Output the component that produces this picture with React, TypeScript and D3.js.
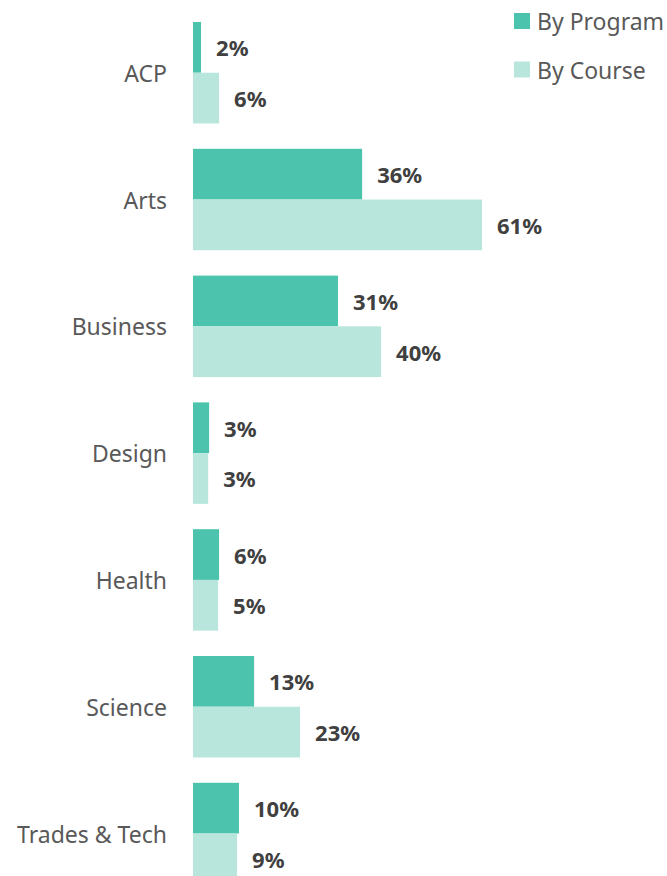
import React from "react";
import * as d3 from "d3";

const categories = ["ACP", "Arts", "Business", "Design", "Health", "Science", "Trades & Tech"];
const byProgram = [1.7, 35.7, 30.6, 3.4, 5.5, 12.9, 9.7];
const byCourse = [5.5, 61, 39.7, 3.2, 5.3, 22.6, 9.3];
const seriesNames = ["By Program", "By Course"];
const colors = ["#4bc3ad", "#b8e6dc"];

const W = 667;
const H = 876;
const FONT = "'Noto Sans', 'Open Sans', sans-serif";

export default function App() {
  const step = 126.8;
  const pad = 0.2;
  const x = d3.scaleLinear().domain([0, 61]).range([193, 482]);
  const y = d3
    .scaleBand<string>()
    .domain(categories)
    .range([22, 22 + step * (categories.length - pad)])
    .paddingInner(pad)
    .paddingOuter(0);
  const sub = d3.scaleBand<number>().domain([0, 1]).range([0, y.bandwidth()]);
  const series = [byProgram, byCourse];

  return (
    <svg
      width={W}
      height={H}
      style={{ position: "absolute", left: 0, top: 0, display: "block" }}
      fontFamily={FONT}
    >
      {categories.map((c, i) => (
        <g key={c} transform={`translate(0,${y(c)})`}>
          <text
            x={167}
            y={y.bandwidth() / 2}
            textAnchor="end"
            dominantBaseline="central"
            fontSize={23}
            fill="#595959"
          >
            {c}
          </text>
          {series.map((s, j) => (
            <g key={j}>
              <rect
                x={x(0)}
                y={sub(j)}
                width={x(s[i]) - x(0)}
                height={sub.bandwidth()}
                fill={colors[j]}
              />
              <text
                x={x(s[i]) + 15}
                y={(sub(j) as number) + sub.bandwidth() / 2}
                dominantBaseline="central"
                fontSize={22}
                fontWeight="bold"
                fill="#404040"
              >
                {Math.round(s[i])}%
              </text>
            </g>
          ))}
        </g>
      ))}
      {seriesNames.map((n, j) => (
        <g key={n} transform={`translate(514,${13 + j * 48.5})`}>
          <rect width={16} height={16} fill={colors[j]} />
          <text x={23} y={8} dominantBaseline="central" fontSize={23} fill="#595959">
            {n}
          </text>
        </g>
      ))}
    </svg>
  );
}
